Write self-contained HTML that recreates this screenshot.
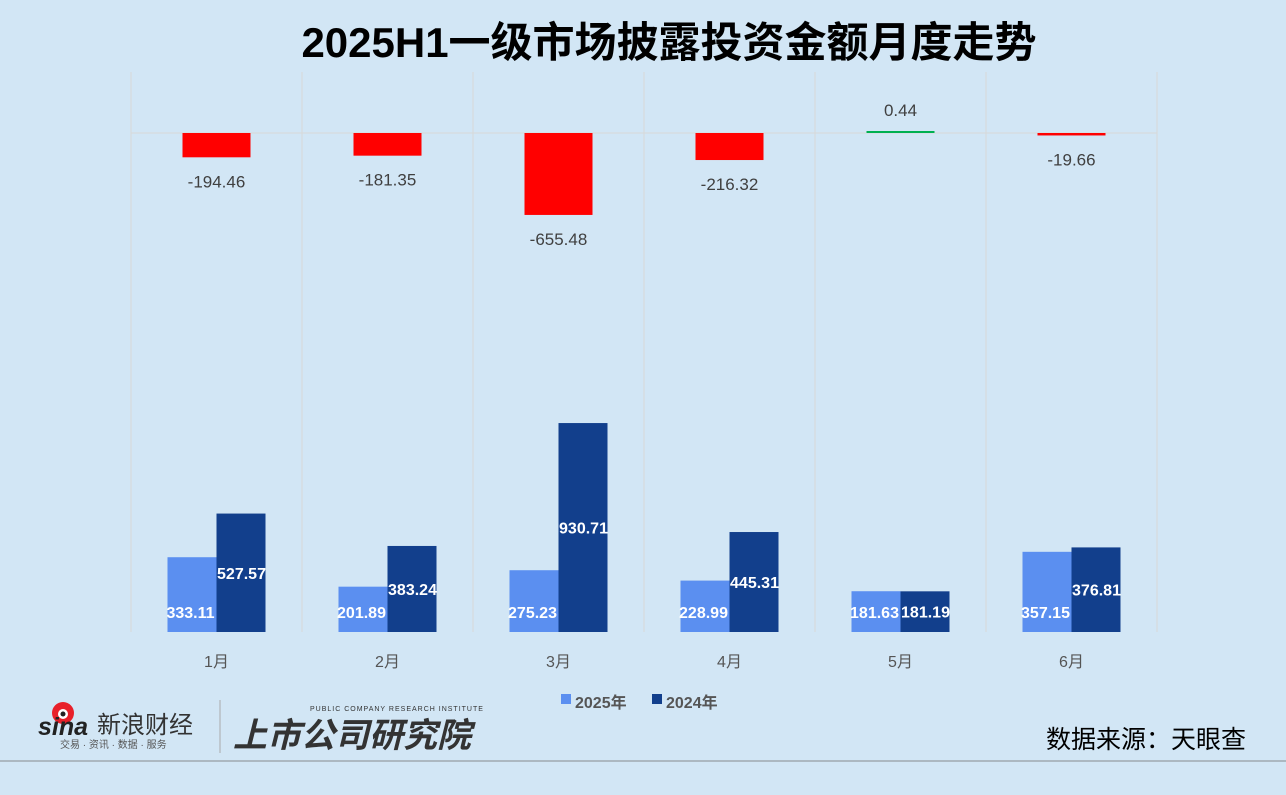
<!DOCTYPE html>
<html><head><meta charset="utf-8">
<style>
body{margin:0;width:1286px;height:795px;background:#d2e6f5;overflow:hidden;font-family:"Liberation Sans","Noto Sans CJK SC",sans-serif;}
svg{display:block}
</style></head>
<body>
<svg id="c" width="1286" height="795">
<text x="669" y="57" text-anchor="middle" font-size="42" font-weight="bold" fill="#000" font-family="Liberation Sans,Noto Sans CJK SC,sans-serif">2025H1一级市场披露投资金额月度走势</text>
<g id="grid"></g>
<g id="bars"></g>
<g>
<rect x="561" y="694" width="10" height="10" fill="#5b8ff0"/>
<text x="575" y="708" font-size="16" font-weight="bold" fill="#555">2025年</text>
<rect x="652" y="694" width="10" height="10" fill="#123f8c"/>
<text x="666" y="708" font-size="16" font-weight="bold" fill="#555">2024年</text>
</g>
<g>
<circle cx="63" cy="713" r="11" fill="#e8202a"/><circle cx="63" cy="714" r="5" fill="#fff"/><circle cx="63" cy="714" r="2.5" fill="#222"/>
<text x="38" y="735" font-size="25" font-weight="bold" font-style="italic" fill="#222">sina</text>
<text x="97" y="733" font-size="24" fill="#333">新浪财经</text>
<text x="60" y="748" font-size="10" fill="#555">交易 · 资讯 · 数据 · 服务</text>
</g>
<line x1="220" y1="700" x2="220" y2="753" stroke="#aaa"/>
<g>
<text x="310" y="711" font-size="7" fill="#333" letter-spacing="1">PUBLIC COMPANY RESEARCH INSTITUTE</text>
<text x="233" y="747" font-size="34" font-weight="bold" font-style="italic" fill="#333">上市公司研究院</text>
</g>
<text x="1246" y="748" text-anchor="end" font-size="25" fill="#000">数据来源：天眼查</text>
<line x1="0" y1="761" x2="1286" y2="761" stroke="#a0a8b0" stroke-width="1.5"/>
</svg>
<script>
const months=["1月","2月","3月","4月","5月","6月"];
const v2025=[333.11,201.89,275.23,228.99,181.63,357.15];
const v2024=[527.57,383.24,930.71,445.31,181.19,376.81];
const diffs=[-194.46,-181.35,-655.48,-216.32,0.44,-19.66];
const NS="http://www.w3.org/2000/svg";
const X0=131,CW=171,BASE=632,K=0.2245,ZERO=133,KD=0.125;
const xc=i=>X0+CW*i+CW/2;
const yB=v=>BASE-v*K;
const yD=v=>ZERO-v*KD;
function mk(tag,attrs,parent,txt){const e=document.createElementNS(NS,tag);for(const k in attrs)e.setAttribute(k,attrs[k]);if(txt!==undefined)e.textContent=txt;parent.appendChild(e);return e;}
const grid=document.getElementById('grid'),bars=document.getElementById('bars');
for(let i=0;i<=6;i++){const l=mk('line',{x1:X0+CW*i,x2:X0+CW*i,y1:72,y2:BASE,stroke:'#d8d8d8'},grid);

}
const z=mk('line',{x1:X0,x2:X0+CW*6,y1:ZERO,y2:ZERO,stroke:'#d8d8d8'},grid);


months.forEach((m,i)=>{
 const c=xc(i);
 const t=mk('text',{x:c,y:667,'text-anchor':'middle','font-size':16,fill:'#555'},bars,m);
 
 
 const d=diffs[i];const y=yD(d);const h=Math.max(Math.abs(y-ZERO),2);
 const r=mk('rect',{x:c-34,y:d>=0?ZERO-h:ZERO,width:68,height:h,fill:d>=0?'#00b050':'#ff0000'},bars);
 
 
 const lt=mk('text',{x:c,y:d>=0?ZERO-h-15:ZERO+h+30,'text-anchor':'middle','font-size':17,fill:'#404040'},bars,d.toFixed(2));
 
 
 const a=yB(v2025[i]),b=yB(v2024[i]);
 const r1=mk('rect',{x:c-49,y:a,width:49,height:BASE-a,fill:'#5b8ff0'},bars);
 
 
 const r2=mk('rect',{x:c,y:b,width:49,height:BASE-b,fill:'#123f8c'},bars);
 
 
 const l1=mk('text',{x:c-26,y:Math.max((a+BASE)/2,612)+6,'text-anchor':'middle','font-size':16,'font-weight':'bold',fill:'#fff'},bars,v2025[i].toFixed(2));
 
 
 const l2=mk('text',{x:c+25,y:(b+BASE)/2+6,'text-anchor':'middle','font-size':16,'font-weight':'bold',fill:'#fff'},bars,v2024[i].toFixed(2));
 
 
});
</script>
</body></html>
